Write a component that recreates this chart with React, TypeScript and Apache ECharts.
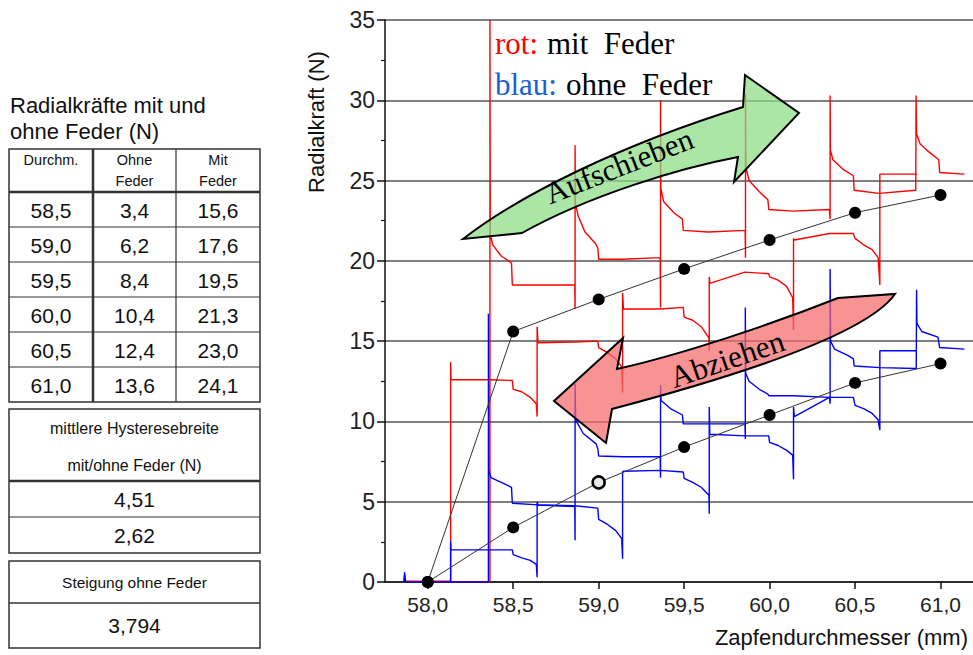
import React, { useEffect, useRef } from "react";
import * as echarts from "echarts";

// ---------- data ----------
const diameters = [58.5, 59.0, 59.5, 60.0, 60.5, 61.0];
const ohneFeder = [3.4, 6.2, 8.4, 10.4, 12.4, 13.6];
const mitFeder = [15.6, 17.6, 19.5, 21.3, 23.0, 24.1];
const startPoint = [58.0, 0];
const hystereseBreite = [4.51, 2.62];
const steigungOhneFeder = 3.794;
const xTickValues = [58.0, 58.5, 59.0, 59.5, 60.0, 60.5, 61.0];

// red trace (mit Feder) – pushing on
const redUpper = [
  [58.134, 0], [58.364, 0], [58.364, 35], [58.366, 21.7], [58.38, 21.0], [58.43, 20.3], [58.48, 19.95], [58.49, 19.85],
  [58.495, 18.5], [58.645, 18.5], [58.86, 18.5],
  [58.862, 17.0], [58.862, 27.2], [58.864, 23.6], [58.88, 22.8], [58.92, 21.8], [58.98, 21.1], [58.995, 20.8],
  [59.0, 20.1], [59.14, 20.1], [59.36, 20.2],
  [59.362, 17.1], [59.362, 30.0], [59.364, 24.5], [59.38, 23.7], [59.44, 23.0], [59.49, 22.6],
  [59.495, 21.9], [59.64, 21.8], [59.857, 21.9],
  [59.859, 20.2], [59.859, 30.4], [59.862, 25.8], [59.88, 25.0], [59.94, 24.3], [59.99, 23.8],
  [59.995, 23.2], [60.14, 23.1], [60.35, 23.2],
  [60.354, 22.6], [60.354, 30.3], [60.356, 26.9], [60.37, 26.3], [60.43, 25.7], [60.49, 25.3],
  [60.495, 24.4], [60.64, 24.2], [60.855, 24.4],
  [60.857, 24.4], [60.857, 30.3], [60.86, 27.9], [60.88, 27.3], [60.93, 26.8], [60.99, 26.3],
  [60.995, 25.5], [61.14, 25.4],
];
// red trace (mit Feder) – pulling off
const redLower = [
  [57.86, 0.0], [57.865, 0.4], [57.87, 0.05], [58.134, 0.05],
  [58.134, 13.7], [58.136, 12.6], [58.364, 12.6], [58.495, 12.55],
  [58.5, 12.0], [58.55, 11.85], [58.6, 11.5], [58.635, 11.1],
  [58.64, 10.3], [58.64, 15.9], [58.645, 14.9], [58.86, 14.95], [58.995, 15.0],
  [59.0, 14.6], [59.05, 14.3], [59.1, 13.9], [59.135, 13.4],
  [59.14, 11.8], [59.14, 18.0], [59.145, 17.0], [59.36, 17.0], [59.495, 17.1],
  [59.5, 16.5], [59.55, 16.3], [59.6, 15.9], [59.645, 15.2],
  [59.647, 14.4], [59.647, 19.0], [59.65, 18.6], [59.855, 19.3], [59.995, 19.2],
  [60.0, 19.0], [60.05, 18.8], [60.1, 18.4], [60.135, 17.7],
  [60.14, 15.7], [60.14, 21.4], [60.145, 21.3], [60.35, 21.7], [60.49, 21.7],
  [60.5, 21.4], [60.55, 21.0], [60.6, 20.7], [60.635, 20.2],
  [60.645, 18.5], [60.645, 25.4], [60.86, 25.4],
];
// blue trace (ohne Feder) – pushing on
const blueUpper = [
  [58.134, 0], [58.355, 0], [58.355, 16.7], [58.357, 7.0], [58.37, 6.5], [58.43, 6.2], [58.49, 5.9],
  [58.495, 4.9], [58.645, 4.8], [58.86, 4.7],
  [58.862, 2.6], [58.862, 12.35], [58.865, 10.1], [58.91, 9.25], [58.985, 8.6], [58.995, 8.3],
  [59.0, 7.85], [59.14, 7.8], [59.36, 7.8],
  [59.362, 6.5], [59.362, 12.25], [59.365, 11.3], [59.42, 10.8], [59.49, 10.4],
  [59.495, 9.85], [59.64, 9.85], [59.856, 9.85],
  [59.858, 8.9], [59.858, 17.1], [59.86, 13.0], [59.88, 12.5], [59.94, 12.0], [59.99, 11.7],
  [59.995, 11.6], [60.14, 11.6], [60.35, 11.5],
  [60.354, 11.1], [60.354, 19.5], [60.357, 15.0], [60.38, 14.5], [60.46, 14.1], [60.49, 13.9],
  [60.495, 13.45], [60.645, 13.35], [60.858, 13.3],
  [60.86, 13.3], [60.86, 18.2], [60.862, 16.1], [60.89, 15.6], [60.985, 15.25],
  [60.995, 14.6], [61.14, 14.5],
];
// blue trace (ohne Feder) – pulling off
const blueLower = [
  [57.86, 0.0], [57.865, 0.6], [57.87, 0.0], [58.134, 0.0],
  [58.134, 2.5], [58.136, 2.0], [58.36, 2.0], [58.495, 2.0],
  [58.5, 1.7], [58.55, 1.5], [58.6, 1.35], [58.635, 1.1],
  [58.64, 0.3], [58.64, 5.0], [58.645, 4.8], [58.86, 4.75], [58.995, 4.6],
  [59.0, 3.9], [59.05, 3.6], [59.1, 3.2], [59.135, 2.7],
  [59.14, 1.45], [59.14, 6.85], [59.145, 6.9], [59.36, 6.95], [59.495, 6.85],
  [59.5, 6.45], [59.55, 6.2], [59.6, 5.9], [59.645, 5.4],
  [59.647, 4.25], [59.647, 10.9], [59.65, 9.2], [59.855, 9.1], [59.995, 9.1],
  [60.0, 8.7], [60.05, 8.5], [60.1, 8.2], [60.135, 7.9],
  [60.14, 6.4], [60.14, 10.9], [60.145, 10.3], [60.35, 11.5], [60.49, 11.5],
  [60.5, 11.0], [60.55, 10.8], [60.6, 10.5], [60.635, 10.1],
  [60.645, 9.45], [60.645, 14.4], [60.86, 14.4],
];

// ---------- helpers ----------
const SANS = "'Liberation Sans', Arial, sans-serif";
const SERIF = "'Liberation Serif', 'Times New Roman', serif";
const fmt = (v: number, d = 1) => v.toFixed(d).replace(".", ",");

const GREEN_ARROW =
  "M463,239 C520,195 620,145 743,107 L745,75 L799,113 L734,182 L738,157 C680,168 590,195 522,233 Z";
const RED_ARROW =
  "M554,401 L623,338 L617,369 C680,355 770,325 838,298 L895,294 C870,330 760,370 612,409 L606,443 Z";

let shapesRegistered = false;
function registerShapes() {
  if (shapesRegistered) return;
  echarts.graphic.registerShape("arrowGreen", echarts.graphic.extendPath(GREEN_ARROW, {}));
  echarts.graphic.registerShape("arrowRed", echarts.graphic.extendPath(RED_ARROW, {}));
  shapesRegistered = true;
}

function txt(x: number, y: number, text: string, size: number, o: any = {}) {
  const align = o.align || "center";
  const valign = o.valign || "middle";
  return {
    type: "text",
    x,
    y,
    rotation: o.rotation || 0,
    z: o.z ?? 60,
    style: {
      text,
      fill: o.fill || "#111",
      fontSize: size,
      fontFamily: o.family || SANS,
      textAlign: align,
      textVerticalAlign: valign,
      align,
      verticalAlign: valign,
    },
  };
}
function ln(x1: number, y1: number, x2: number, y2: number, w: number) {
  return { type: "line", z: 10, shape: { x1, y1, x2, y2 }, style: { stroke: "#333", lineWidth: w } };
}
function box(x: number, y: number, w: number, h: number) {
  return { type: "rect", z: 10, shape: { x, y, width: w, height: h }, style: { fill: "none", stroke: "#333", lineWidth: 1.5 } };
}

function buildGraphic() {
  const g: any[] = [];
  // title of table
  g.push(txt(10, 105, "Radialkräfte mit und", 22, { align: "left" }));
  g.push(txt(10, 131, "ohne Feder (N)", 22, { align: "left" }));

  // table 1
  const L = 9, R = 260, T = 149, C1 = 93, C2 = 176, HB = 192, RH = 35;
  const B = HB + RH * diameters.length;
  g.push(box(L, T, R - L, B - T));
  g.push(ln(C1, T, C1, B, 2.5));
  g.push(ln(C2, T, C2, B, 1.2));
  g.push(ln(L, HB, R, HB, 2.5));
  for (let i = 1; i < diameters.length; i++) g.push(ln(L, HB + RH * i, R, HB + RH * i, 1.2));
  const cx = [(L + C1) / 2, (C1 + C2) / 2, (C2 + R) / 2];
  g.push(txt(cx[0], 160, "Durchm.", 14.5));
  g.push(txt(cx[1], 160, "Ohne", 14.5));
  g.push(txt(cx[1], 181, "Feder", 14.5));
  g.push(txt(cx[2], 160, "Mit", 14.5));
  g.push(txt(cx[2], 181, "Feder", 14.5));
  diameters.forEach((d, i) => {
    const yc = HB + RH * i + RH / 2 + 1;
    g.push(txt(cx[0], yc, fmt(d), 21));
    g.push(txt(cx[1], yc, fmt(ohneFeder[i]), 21));
    g.push(txt(cx[2], yc, fmt(mitFeder[i]), 21));
  });

  // table 2
  g.push(box(L, 409, R - L, 553 - 409));
  g.push(ln(L, 481, R, 481, 2.5));
  g.push(ln(L, 517, R, 517, 1.2));
  g.push(txt(134.5, 428, "mittlere Hysteresebreite", 16));
  g.push(txt(134.5, 465, "mit/ohne Feder (N)", 16));
  g.push(txt(134.5, 499, fmt(hystereseBreite[0], 2), 21));
  g.push(txt(134.5, 535, fmt(hystereseBreite[1], 2), 21));

  // table 3
  g.push(box(L, 561, R - L, 648 - 561));
  g.push(ln(L, 603, R, 603, 1.5));
  g.push(txt(134.5, 582, "Steigung ohne Feder", 15.5));
  g.push(txt(134.5, 625, fmt(steigungOhneFeder, 3), 21));

  // axis names
  g.push(txt(316, 122, "Radialkraft (N)", 22, { rotation: Math.PI / 2 }));
  g.push(txt(968, 637, "Zapfendurchmesser (mm)", 22, { align: "right" }));

  // legend text
  g.push(txt(495, 43, "rot:", 31, { align: "left", family: SERIF, fill: "#ff0000" }));
  g.push(txt(547, 43, "mit  Feder", 31, { align: "left", family: SERIF, fill: "#000" }));
  g.push(txt(495, 84, "blau:", 31, { align: "left", family: SERIF, fill: "#1a5fd6" }));
  g.push(txt(566, 84, "ohne  Feder", 31, { align: "left", family: SERIF, fill: "#000" }));

  // arrows
  g.push({
    type: "arrowGreen",
    x: 0,
    y: 0,
    z: 50,
    style: { fill: "rgba(140,220,132,0.72)", stroke: "#000", lineWidth: 2 },
  });
  g.push({
    type: "arrowRed",
    x: 0,
    y: 0,
    z: 50,
    style: { fill: "rgba(244,106,106,0.72)", stroke: "#000", lineWidth: 2 },
  });
  g.push(txt(619, 166, "Aufschieben", 31, { family: SERIF, rotation: 0.375, fill: "#000" }));
  g.push(txt(727, 359, "Abziehen", 31, { family: SERIF, rotation: 0.33, fill: "#000" }));
  return g;
}

export default function App() {
  const ref = useRef<HTMLDivElement>(null);
  useEffect(() => {
    document.body.style.margin = "0";
    registerShapes();
    const chart = echarts.init(ref.current!, null, { renderer: "svg" });

    const mitData: any[] = [startPoint, ...diameters.map((d, i) => [d, mitFeder[i]])];
    const ohneData: any[] = [startPoint, ...diameters.map((d, i) => {
      if (d === 59.0) {
        return { value: [d, ohneFeder[i]], itemStyle: { color: "#e8e8e8", borderColor: "#000", borderWidth: 2.5 } };
      }
      return [d, ohneFeder[i]];
    })];

    const traceSeries = (data: number[][], color: string) => ({
      type: "line",
      data,
      showSymbol: false,
      symbol: "none",
      silent: true,
      z: 2,
      lineStyle: { color, width: 1.4 },
    });

    const option: any = {
      animation: false,
      backgroundColor: "#fff",
      grid: { left: 385, right: 0, top: 20, bottom: 73, containLabel: false },
      xAxis: {
        type: "value",
        min: 57.75,
        max: 61.19,
        axisLine: { show: true, onZero: false, lineStyle: { color: "#111", width: 1.5 } },
        axisTick: { show: true, customValues: xTickValues, length: 7, lineStyle: { color: "#111", width: 1.5 } },
        axisLabel: {
          customValues: xTickValues,
          formatter: (v: number) => fmt(v),
          fontSize: 21,
          fontFamily: SANS,
          color: "#222",
          margin: 12,
        },
        splitLine: { show: false },
      },
      yAxis: {
        type: "value",
        min: 0,
        max: 35,
        interval: 5,
        axisLine: { show: true, lineStyle: { color: "#111", width: 1.5 } },
        axisTick: { show: true, length: 8, lineStyle: { color: "#111", width: 1.5 } },
        minorTick: { show: true, splitNumber: 2, length: 4, lineStyle: { color: "#111", width: 1.2 } },
        axisLabel: { fontSize: 23, fontFamily: SANS, color: "#222", margin: 10 },
        splitLine: { show: true, lineStyle: { color: "#555", width: 1.5 } },
      },
      series: [
        traceSeries(redLower, "#ff0000"),
        traceSeries(redUpper, "#ff0000"),
        traceSeries(blueLower, "#0000ff"),
        traceSeries(blueUpper, "#0000ff"),
        {
          type: "line",
          data: mitData,
          symbol: "circle",
          symbolSize: 12,
          z: 5,
          itemStyle: { color: "#000" },
          lineStyle: { color: "#333", width: 1 },
        },
        {
          type: "line",
          data: ohneData,
          symbol: "circle",
          symbolSize: 12,
          z: 5,
          itemStyle: { color: "#000" },
          lineStyle: { color: "#333", width: 1 },
        },
      ],
      graphic: { elements: buildGraphic() },
    };
    chart.setOption(option);
    return () => chart.dispose();
  }, []);
  return <div ref={ref} style={{ width: 973, height: 655, position: "absolute", left: 0, top: 0 }} />;
}
